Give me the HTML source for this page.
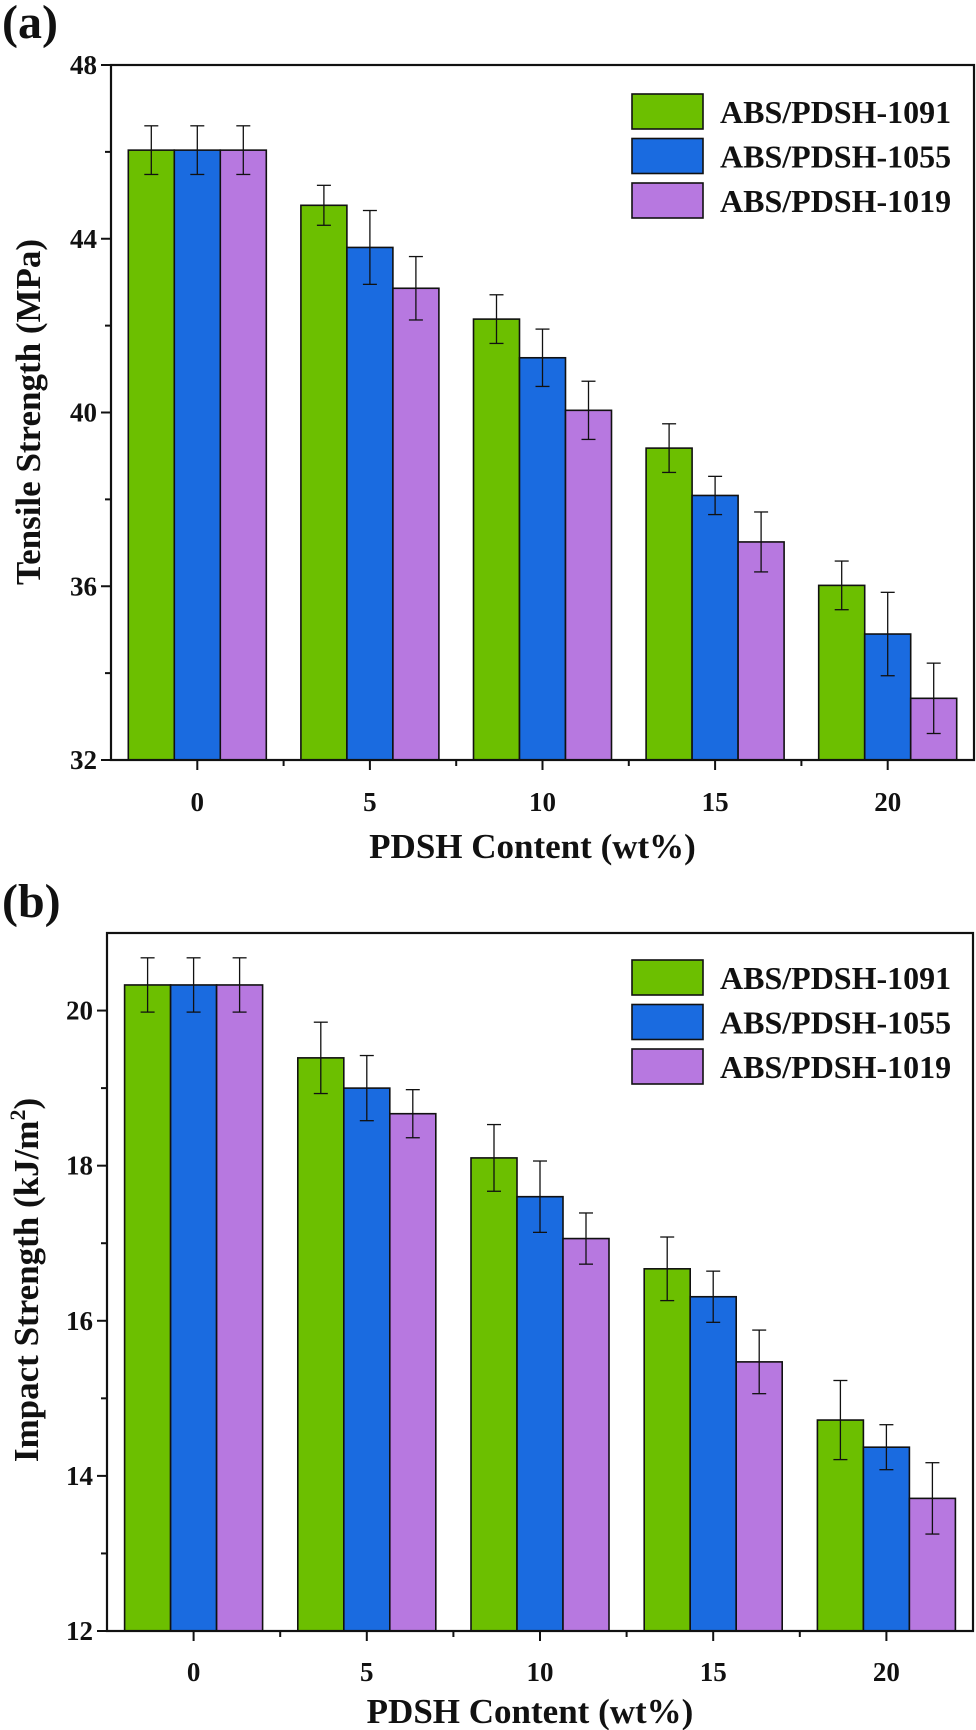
<!DOCTYPE html>
<html><head><meta charset="utf-8">
<style>
html,body{margin:0;padding:0;background:#fff;}
svg{display:block;}
text{font-family:"Liberation Serif",serif;font-weight:bold;fill:#111;}
</style></head>
<body>
<svg id="fig" width="976" height="1730" viewBox="0 0 976 1730" xmlns="http://www.w3.org/2000/svg"></svg>
<script>
const categories = ["0","5","10","15","20"];
const seriesNames = ["ABS/PDSH-1091","ABS/PDSH-1055","ABS/PDSH-1019"];
const colors = ["#6cbf00","#1a6be0","#b778e0"];

const tensileGreen = [46.04, 44.77, 42.15, 39.18, 36.02];
const tensileBlue = [46.04, 43.8, 41.26, 38.09, 34.9];
const tensilePurple = [46.04, 42.86, 40.05, 37.02, 33.42];
const tensileErrGreen = [0.56, 0.46, 0.56, 0.56, 0.56];
const tensileErrBlue = [0.56, 0.85, 0.66, 0.44, 0.96];
const tensileErrPurple = [0.56, 0.73, 0.67, 0.69, 0.81];
const tensileTicks = [32, 36, 40, 44, 48];

const impactGreen = [20.33, 19.39, 18.10, 16.67, 14.72];
const impactBlue = [20.33, 19.0, 17.6, 16.31, 14.37];
const impactPurple = [20.33, 18.67, 17.06, 15.47, 13.71];
const impactErrGreen = [0.35, 0.46, 0.43, 0.41, 0.51];
const impactErrBlue = [0.35, 0.42, 0.46, 0.33, 0.29];
const impactErrPurple = [0.35, 0.31, 0.33, 0.41, 0.46];
const impactTicks = [12, 14, 16, 18, 20];

const NS = "http://www.w3.org/2000/svg";
const svg = document.getElementById("fig");
function mk(tag, attrs, parent){
  const e = document.createElementNS(NS, tag);
  for (const k in attrs) e.setAttribute(k, attrs[k]);
  (parent || svg).appendChild(e);
  return e;
}

function drawChart(cfg){
  const g = mk("g", {});
  
  
  const L = cfg.left, R = cfg.right, T = cfg.top, B = cfg.bottom;
  const yS = v => B - (v - cfg.ymin) / (cfg.ymax - cfg.ymin) * (B - T);
  const band = (R - L) / categories.length;
  const xC = i => L + band * (i + 0.5);
  const bw = 46;

  // bars
  cfg.values.forEach((ser, s) => {
    ser.forEach((v, i) => {
      const x = xC(i) + (s - 1.5) * bw;
      const r = mk("rect", {x: x, y: yS(v), width: bw, height: B - yS(v), fill: colors[s], stroke: "#111", "stroke-width": 1.6}, g);
      
      
    });
  });
  // error bars
  cfg.values.forEach((ser, s) => {
    ser.forEach((v, i) => {
      const cx = xC(i) + (s - 1) * bw;
      const e = cfg.errs[s][i];
      const eg = mk("g", {stroke: "#111", "stroke-width": 1.3}, g);
      
      
      mk("line", {x1: cx, x2: cx, y1: yS(v + e), y2: yS(v - e)}, eg);
      mk("line", {x1: cx - 7, x2: cx + 7, y1: yS(v + e), y2: yS(v + e)}, eg);
      mk("line", {x1: cx - 7, x2: cx + 7, y1: yS(v - e), y2: yS(v - e)}, eg);
    });
  });
  // frame
  const fr = mk("rect", {x: L, y: T, width: R - L, height: B - T, fill: "none", stroke: "#111", "stroke-width": 2.2}, g);
  
  
  // y ticks
  cfg.ticks.forEach((t, k) => {
    mk("line", {x1: L - 10, x2: L, y1: yS(t), y2: yS(t), stroke: "#111", "stroke-width": 2}, g);
    const tx = mk("text", {x: L - 14, y: yS(t) + 9, "text-anchor": "end", "font-size": 27}, g);
    tx.textContent = t;
    
    
    if (k < cfg.ticks.length - 1) {
      const m = (t + cfg.ticks[k + 1]) / 2;
      mk("line", {x1: L - 6, x2: L, y1: yS(m), y2: yS(m), stroke: "#111", "stroke-width": 2}, g);
    }
  });
  // x ticks
  categories.forEach((c, i) => {
    mk("line", {x1: xC(i), x2: xC(i), y1: B, y2: B + 10, stroke: "#111", "stroke-width": 2}, g);
    if (i > 0) mk("line", {x1: L + band * i, x2: L + band * i, y1: B, y2: B + 6, stroke: "#111", "stroke-width": 2}, g);
    const tx = mk("text", {x: xC(i), y: cfg.xlabY, "text-anchor": "middle", "font-size": 27}, g);
    tx.textContent = c;
    
    
  });
  // titles
  const xt = mk("text", {x: (L + R) / 2 - 10, y: cfg.xtitleY, "text-anchor": "middle", "font-size": 35}, g);
  xt.textContent = "PDSH Content (wt%)";
  
  
  const yt = mk("text", {x: 0, y: 0, "text-anchor": "middle", "font-size": 35, transform: "translate(" + cfg.ytitleX + "," + cfg.ytitleY + ") rotate(-90)"}, g);
  
  
  if (cfg.sup) {
    yt.textContent = "Impact Strength (kJ/m";
    const sp = mk("tspan", {"font-size": 22, dy: -13}, yt);
    sp.textContent = "2";
    const sp2 = mk("tspan", {dy: 13}, yt);
    sp2.textContent = ")";
  } else yt.textContent = cfg.ytitle;
  const pl = mk("text", {x: 2, y: cfg.panelY, "font-size": 48}, g);
  pl.textContent = cfg.panel;
  
  
  // legend
  seriesNames.forEach((n, s) => {
    const ly = cfg.legY + s * 44.5;
    const le = mk("g", {}, g);
    
    
    mk("rect", {x: 632, y: ly, width: 71, height: 35, fill: colors[s], stroke: "#111", "stroke-width": 1.6}, le);
    const t = mk("text", {x: 720, y: ly + 29, "font-size": 32}, le);
    t.textContent = n;
  });
}

drawChart({name: "tensile-chart", short: "tensile", left: 111, right: 974, top: 65, bottom: 760,
  ymin: 32, ymax: 48, ticks: tensileTicks,
  values: [tensileGreen, tensileBlue, tensilePurple],
  errs: [tensileErrGreen, tensileErrBlue, tensileErrPurple],
  xlabY: 811, xtitleY: 858, ytitleX: 40, ytitleY: 412, ytitle: "Tensile Strength (MPa)",
  panel: "(a)", panelY: 38, legY: 94});

drawChart({name: "impact-chart", short: "impact", left: 107, right: 973, top: 933, bottom: 1631,
  ymin: 12, ymax: 21, ticks: impactTicks,
  values: [impactGreen, impactBlue, impactPurple],
  errs: [impactErrGreen, impactErrBlue, impactErrPurple],
  xlabY: 1681, xtitleY: 1723, ytitleX: 38, ytitleY: 1280, sup: true,
  panel: "(b)", panelY: 917, legY: 960});
</script>
</body></html>
